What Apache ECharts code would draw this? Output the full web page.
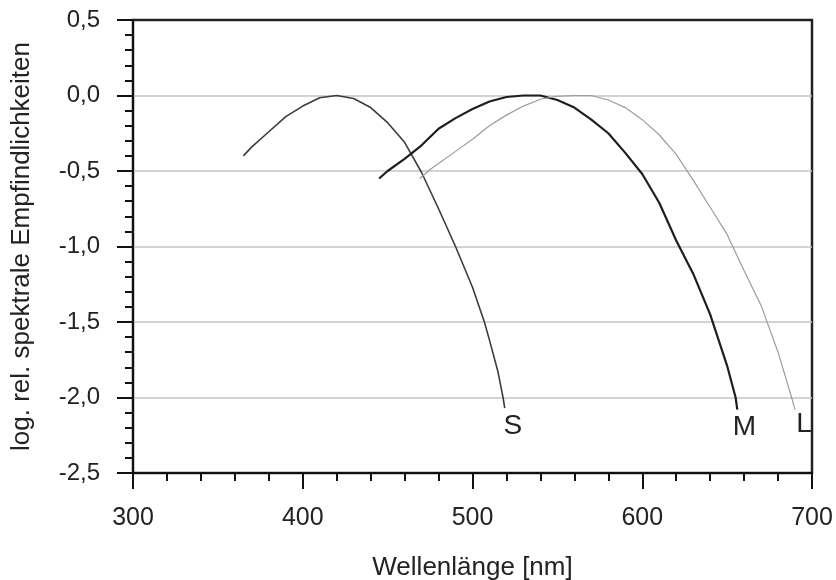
<!DOCTYPE html>
<html>
<head>
<meta charset="utf-8">
<script src="https://cdn.jsdelivr.net/npm/echarts@6/dist/echarts.min.js"></script>
<style>
html,body{margin:0;padding:0;background:#fff;}
#chart{width:836px;height:580px;}
</style>
</head>
<body>
<div id="chart"></div>
<script>
// Data (wavelength in nm, log. relative sensitivity)
var sWavelengths = [365, 370, 380, 390, 400, 410, 420, 430, 440, 450, 460, 470, 480, 490, 500, 507, 510, 515, 518, 519];
var sValues      = [-0.40, -0.34, -0.24, -0.14, -0.07, -0.015, 0.0, -0.02, -0.08, -0.18, -0.31, -0.51, -0.75, -1.00, -1.27, -1.50, -1.62, -1.83, -2.00, -2.07];

var mWavelengths = [445, 450, 460, 470, 480, 490, 500, 510, 520, 530, 540, 550, 560, 570, 580, 590, 600, 610, 620, 630, 640, 650, 655, 656];
var mValues      = [-0.55, -0.50, -0.42, -0.33, -0.22, -0.15, -0.09, -0.04, -0.01, 0.0, 0.0, -0.03, -0.08, -0.16, -0.25, -0.38, -0.52, -0.71, -0.96, -1.18, -1.45, -1.79, -2.00, -2.08];

var lWavelengths = [469, 475, 480, 490, 500, 510, 520, 530, 540, 550, 560, 570, 580, 590, 600, 610, 620, 630, 640, 650, 660, 670, 680, 688, 690];
var lValues      = [-0.55, -0.49, -0.45, -0.37, -0.29, -0.20, -0.13, -0.07, -0.025, -0.005, 0.0, 0.0, -0.03, -0.08, -0.16, -0.26, -0.39, -0.56, -0.74, -0.92, -1.16, -1.39, -1.70, -2.00, -2.08];

var curveNames = ['S', 'M', 'L'];
var xTicks = [300, 400, 500, 600, 700];
var yTicks = [-2.5, -2.0, -1.5, -1.0, -0.5, 0.0, 0.5];

var xTitle = 'Wellenlänge [nm]';
var yTitle = 'log. rel. spektrale Empfindlichkeiten';

function pairs(xs, ys) {
  var out = [];
  for (var i = 0; i < xs.length; i++) out.push([xs[i], ys[i]]);
  return out;
}

var FONT = '"Liberation Sans", Arial, sans-serif';
var curves = [
  {name: curveNames[0], data: pairs(sWavelengths, sValues), color: '#3c3c3c', width: 1.6, off: [8, 18]},
  {name: curveNames[1], data: pairs(mWavelengths, mValues), color: '#1e1e1e', width: 2.2, off: [7, 18]},
  {name: curveNames[2], data: pairs(lWavelengths, lValues), color: '#9c9c9c', width: 1.2, off: [9, 15]}
];

var series = curves.map(function (c) {
  var last = c.data[c.data.length - 1];
  return {
    type: 'line',
    name: c.name,
    data: c.data,
    showSymbol: false,
    smooth: false,
    silent: true,
    lineStyle: {color: c.color, width: c.width},
    markPoint: {
      symbol: 'circle',
      symbolSize: 0,
      silent: true,
      data: [{coord: last, value: c.name}],
      label: {
        show: true,
        formatter: c.name,
        position: 'inside',
        offset: c.off,
        color: '#222',
        fontFamily: FONT,
        fontSize: 28
      }
    }
  };
});

var chart = echarts.init(document.getElementById('chart'), null, {renderer: 'canvas'});
chart.setOption({
  animation: false,
  backgroundColor: '#fff',
  grid: {
    left: 133, right: 24, top: 20, bottom: 107,
    containLabel: false,
    outerBoundsMode: 'none',
    show: true, borderColor: '#222', borderWidth: 2.5, backgroundColor: 'transparent'
  },
  xAxis: {
    type: 'value',
    min: xTicks[0], max: xTicks[xTicks.length - 1], interval: 100,
    name: xTitle,
    nameLocation: 'middle',
    nameGap: 82,
    nameTextStyle: {color: '#222', fontFamily: FONT, fontSize: 26},
    axisLine: {show: true, onZero: false, lineStyle: {color: '#111', width: 2}},
    axisTick: {show: true, length: 16, lineStyle: {color: '#111', width: 2}},
    minorTick: {show: true, splitNumber: 5, length: 8, lineStyle: {color: '#111', width: 2}},
    axisLabel: {color: '#222', fontFamily: FONT, fontSize: 25, margin: 33},
    splitLine: {show: false}
  },
  yAxis: {
    type: 'value',
    min: yTicks[0], max: yTicks[yTicks.length - 1], interval: 0.5,
    name: yTitle,
    nameLocation: 'middle',
    nameRotate: 90,
    nameGap: 98,
    nameTextStyle: {color: '#222', fontFamily: FONT, fontSize: 26},
    axisLine: {show: true, onZero: false, lineStyle: {color: '#111', width: 2}},
    axisTick: {show: true, length: 16, lineStyle: {color: '#111', width: 2}},
    minorTick: {show: true, splitNumber: 5, length: 8, lineStyle: {color: '#111', width: 2}},
    axisLabel: {
      color: '#222', fontFamily: FONT, fontSize: 24, margin: 33,
      formatter: function (v) { return v.toFixed(1).replace('.', ','); }
    },
    splitLine: {show: true, showMinLine: false, showMaxLine: false, lineStyle: {color: '#c4c4c4', width: 1.5}}
  },
  series: series
});
</script>
</body>
</html>
